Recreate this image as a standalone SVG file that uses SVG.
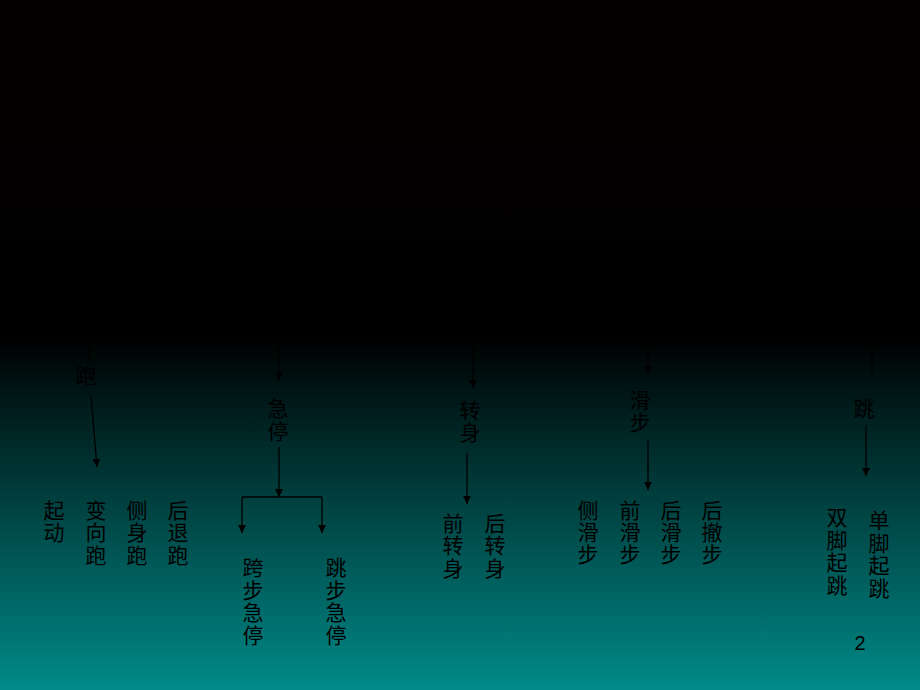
<svg xmlns="http://www.w3.org/2000/svg" width="920" height="690" viewBox="0 0 920 690">
<defs>
<linearGradient id="bg" x1="0" y1="0" x2="0" y2="1">
<stop offset="0" stop-color="#050000"/>
<stop offset="0.49" stop-color="#000000"/>
<stop offset="1" stop-color="#008a88"/>
</linearGradient>
<marker id="ah" viewBox="0 0 10 10" refX="10" refY="5" markerWidth="8" markerHeight="8" markerUnits="userSpaceOnUse" orient="auto">
<path d="M0,0 L10,5 L0,10 z" fill="#000"/>
</marker>
<style>
.t{font-family:"Noto Sans CJK SC","Noto Sans",sans-serif;font-size:21px;fill:#000;text-anchor:middle}
.c{stroke:#000;stroke-width:1.3;fill:none}
.a{marker-end:url(#ah)}
.n{font-family:"Liberation Sans",Arial,sans-serif;font-size:20px;fill:#000;text-anchor:middle}
</style>
</defs>
<rect width="920" height="690" fill="url(#bg)"/>
<g id="connectors">
<line class="c" x1="89" y1="300" x2="89" y2="362"/>
<line class="c a" x1="91" y1="396" x2="97" y2="467"/>
<line class="c a" x1="279" y1="300" x2="279" y2="381"/>
<line class="c a" x1="279" y1="447" x2="279" y2="497"/>
<polyline class="c" points="242,497 322,497"/>
<line class="c a" x1="242" y1="497" x2="242" y2="533"/>
<line class="c a" x1="322" y1="497" x2="322" y2="533"/>
<line class="c a" x1="473" y1="300" x2="473" y2="388"/>
<line class="c a" x1="467" y1="453" x2="467" y2="504"/>
<line class="c a" x1="648" y1="300" x2="648" y2="374"/>
<line class="c a" x1="648" y1="439" x2="648" y2="490"/>
<line class="c" x1="872" y1="300" x2="872" y2="374"/>
<line class="c a" x1="866" y1="425" x2="866" y2="476"/>
</g>
<g id="n-pao"><text class="t" x="86" y="383">跑</text></g>
<g id="n-qidong"><text class="t"><tspan x="54" y="518">起</tspan><tspan x="54" y="540">动</tspan></text></g>
<g id="n-bianxiangpao"><text class="t"><tspan x="96" y="518">变</tspan><tspan x="96" y="540">向</tspan><tspan x="96" y="563">跑</tspan></text></g>
<g id="n-ceshenpao"><text class="t"><tspan x="137" y="518">侧</tspan><tspan x="137" y="540">身</tspan><tspan x="137" y="563">跑</tspan></text></g>
<g id="n-houtuipao"><text class="t"><tspan x="178" y="518">后</tspan><tspan x="178" y="540">退</tspan><tspan x="178" y="563">跑</tspan></text></g>
<g id="n-jiting"><text class="t"><tspan x="278" y="416">急</tspan><tspan x="278" y="439">停</tspan></text></g>
<g id="n-kuabujiting"><text class="t"><tspan x="253" y="575">跨</tspan><tspan x="253" y="598">步</tspan><tspan x="253" y="620">急</tspan><tspan x="253" y="643">停</tspan></text></g>
<g id="n-tiaobujiting"><text class="t"><tspan x="336" y="575">跳</tspan><tspan x="336" y="598">步</tspan><tspan x="336" y="620">急</tspan><tspan x="336" y="643">停</tspan></text></g>
<g id="n-zhuanshen"><text class="t"><tspan x="470" y="418">转</tspan><tspan x="470" y="440">身</tspan></text></g>
<g id="n-qianzhuanshen"><text class="t"><tspan x="453" y="531">前</tspan><tspan x="453" y="553">转</tspan><tspan x="453" y="576">身</tspan></text></g>
<g id="n-houzhuanshen"><text class="t"><tspan x="495" y="531">后</tspan><tspan x="495" y="553">转</tspan><tspan x="495" y="576">身</tspan></text></g>
<g id="n-huabu"><text class="t"><tspan x="640" y="408">滑</tspan><tspan x="640" y="430">步</tspan></text></g>
<g id="n-cehuabu"><text class="t"><tspan x="588" y="518">侧</tspan><tspan x="588" y="540">滑</tspan><tspan x="588" y="562">步</tspan></text></g>
<g id="n-qianhuabu"><text class="t"><tspan x="630" y="518">前</tspan><tspan x="630" y="540">滑</tspan><tspan x="630" y="562">步</tspan></text></g>
<g id="n-houhuabu"><text class="t"><tspan x="671" y="518">后</tspan><tspan x="671" y="540">滑</tspan><tspan x="671" y="562">步</tspan></text></g>
<g id="n-houchebu"><text class="t"><tspan x="712" y="518">后</tspan><tspan x="712" y="540">撤</tspan><tspan x="712" y="562">步</tspan></text></g>
<g id="n-tiao"><text class="t" x="864" y="416">跳</text></g>
<g id="n-shuangjiao"><text class="t"><tspan x="837" y="525">双</tspan><tspan x="837" y="548">脚</tspan><tspan x="837" y="570">起</tspan><tspan x="837" y="593">跳</tspan></text></g>
<g id="n-danjiao"><text class="t"><tspan x="879" y="528">单</tspan><tspan x="879" y="551">脚</tspan><tspan x="879" y="573">起</tspan><tspan x="879" y="596">跳</tspan></text></g>
<g id="page"><text class="n" x="860" y="650">2</text></g>
</svg>
